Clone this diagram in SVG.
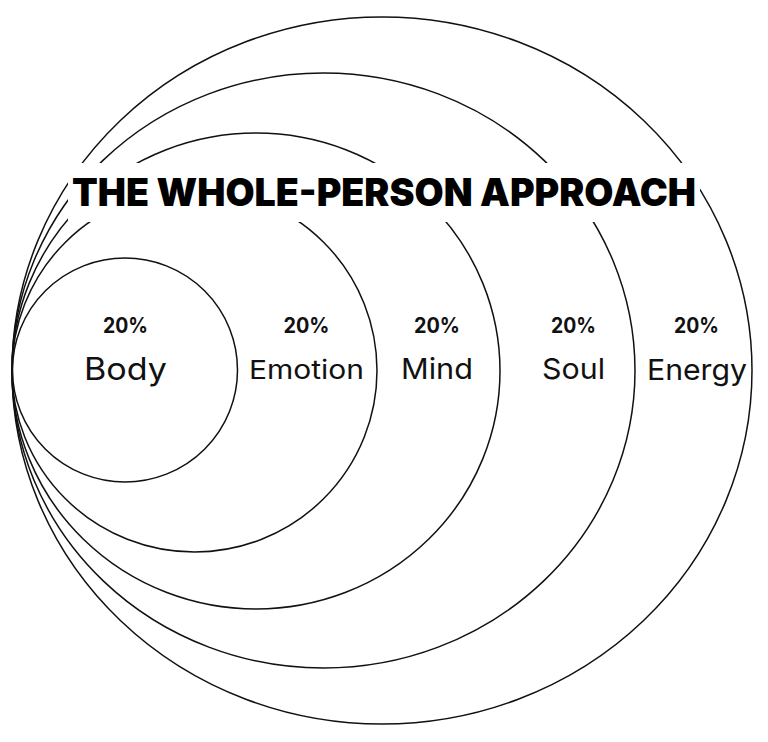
<svg xmlns="http://www.w3.org/2000/svg" width="768" height="742" viewBox="0 0 768 742">
  <style>
    .ring { fill: none; stroke: #111; stroke-width: 1.5; }
    .pct { font-family: Inter, "Liberation Sans", sans-serif; font-weight: 700; font-size: 21px; fill: #111; text-anchor: middle; }
    .lbl { font-family: Inter, "Liberation Sans", sans-serif; font-weight: 400; fill: #111; text-anchor: middle; }
    .title { font-family: Inter, "Liberation Sans", sans-serif; font-weight: 900; font-size: 38px; fill: #000; }
  </style>
  <rect width="768" height="742" fill="#fff"/>
  <g id="energy">
    <ellipse class="ring" cx="382" cy="370.5" rx="370" ry="353.5"/>
  </g>
  <g id="soul">
    <ellipse class="ring" cx="323.5" cy="370.5" rx="311.5" ry="297.5"/>
  </g>
  <g id="mind">
    <ellipse class="ring" cx="256" cy="371" rx="244" ry="238"/>
  </g>
  <g id="emotion">
    <ellipse class="ring" cx="194.5" cy="370.5" rx="182.5" ry="181.5"/>
  </g>
  <g id="body">
    <ellipse class="ring" cx="125" cy="370" rx="112.5" ry="112"/>
  </g>
  <g id="labels">
    <text class="pct" x="125.5" y="333" textLength="45" lengthAdjust="spacingAndGlyphs">20%</text>
    <text class="lbl" x="125.5" y="380" font-size="31" textLength="83" lengthAdjust="spacingAndGlyphs">Body</text>
    <text class="pct" x="306.5" y="333" textLength="46" lengthAdjust="spacingAndGlyphs">20%</text>
    <text class="lbl" x="306.5" y="379" font-size="26" textLength="115" lengthAdjust="spacingAndGlyphs">Emotion</text>
    <text class="pct" x="437" y="333" textLength="46" lengthAdjust="spacingAndGlyphs">20%</text>
    <text class="lbl" x="437" y="379" font-size="29" textLength="72" lengthAdjust="spacingAndGlyphs">Mind</text>
    <text class="pct" x="573.5" y="333" textLength="45" lengthAdjust="spacingAndGlyphs">20%</text>
    <text class="lbl" x="573.5" y="379" font-size="29" textLength="63" lengthAdjust="spacingAndGlyphs">Soul</text>
    <text class="pct" x="696.5" y="333" textLength="45" lengthAdjust="spacingAndGlyphs">20%</text>
    <text class="lbl" x="697" y="380" font-size="29" textLength="100" lengthAdjust="spacingAndGlyphs">Energy</text>
  </g>
  <g id="title">
    <rect x="68" y="163" width="632" height="59" fill="#fff"/>
    <text class="title" x="72" y="206" textLength="624" lengthAdjust="spacingAndGlyphs">THE WHOLE-PERSON APPROACH</text>
  </g>
</svg>
